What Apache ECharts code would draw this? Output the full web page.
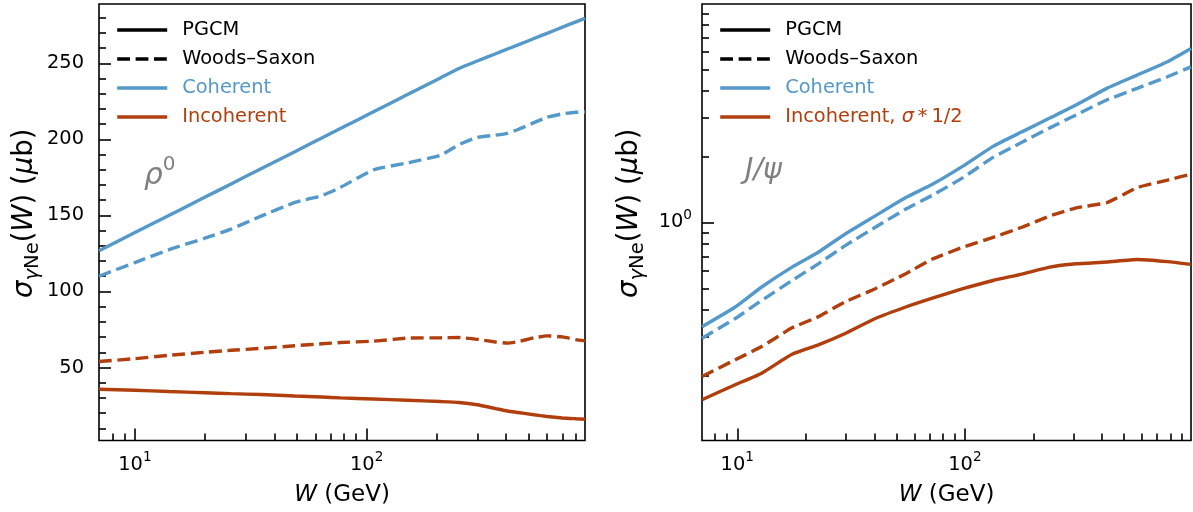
<!DOCTYPE html>
<html><head><meta charset="utf-8">
<script src="https://cdn.jsdelivr.net/npm/echarts@6/dist/echarts.min.js"></script>
<style>html,body{margin:0;padding:0;background:#fff}#c{width:1193px;height:512px}</style>
</head><body><div id="c"></div>
<script>
// ---------- data ----------
// rho0 panel
const W_rho = [7, 10, 14, 20, 26, 35, 49, 64, 77, 107, 150, 208, 250, 300, 360, 405, 450, 527, 600, 700, 800, 875];
const rho_pgcm_coh = [126.7, 138.7, 149.9, 161.9, 170.7, 180.7, 191.9, 200.9, 207.1, 218.1, 229.5, 240.4, 246.6, 251.5, 256.3, 259.4, 262.1, 266.3, 269.7, 273.8, 277.3, 279.6];
const rho_ws_coh   = [110, 119, 127.4, 135, 141, 149.5, 158.5, 163, 168.4, 180, 184.5, 189.5, 196.5, 201.3, 202.8, 204, 206.5, 211, 214.5, 216.8, 217.8, 218];
const rho_pgcm_inc = [35.7, 35, 34.2, 33.4, 32.8, 32.2, 31.3, 30.6, 30, 29.3, 28.5, 27.6, 27, 25.5, 23, 21.4, 20.4, 18.9, 17.8, 16.8, 16.3, 16];
const rho_ws_inc   = [53.9, 55.8, 58, 60, 61.3, 62.6, 64.3, 65.6, 66.4, 67.3, 69.3, 69.5, 69.7, 68.5, 66.8, 66, 67, 69.5, 70.8, 70.1, 68.3, 67.5];
// J/psi panel (incoherent already multiplied by 1/2)
const W_jpsi = [7, 9.8, 12.8, 17.4, 22.7, 29.8, 40.4, 55, 72, 98, 133, 178, 236, 309, 420, 571, 776, 985];
const jpsi_pgcm_coh = [0.334, 0.411, 0.507, 0.625, 0.731, 0.885, 1.071, 1.298, 1.492, 1.806, 2.224, 2.59, 2.994, 3.44, 4.09, 4.70, 5.41, 6.22];
const jpsi_ws_coh   = [0.296, 0.364, 0.44, 0.543, 0.647, 0.783, 0.95, 1.15, 1.33, 1.6, 1.98, 2.32, 2.7, 3.1, 3.62, 4.09, 4.62, 5.13];
const jpsi_pgcm_inc = [0.155, 0.1816, 0.205, 0.25, 0.276, 0.311, 0.364, 0.411, 0.451, 0.498, 0.543, 0.581, 0.625, 0.647, 0.659, 0.677, 0.662, 0.643];
const jpsi_ws_inc   = [0.198, 0.236, 0.271, 0.33, 0.371, 0.434, 0.498, 0.583, 0.68, 0.77, 0.855, 0.95, 1.07, 1.165, 1.23, 1.44, 1.56, 1.66];
// ticks
const rhoYMajor = [50, 100, 150, 200, 250];
const rhoYMinor = [10, 20, 30, 40, 60, 70, 80, 90, 110, 120, 130, 140, 160, 170, 180, 190, 210, 220, 230, 240, 260, 270, 280];
const xMajor = [10, 100];
const xMinor = [8, 9, 20, 30, 40, 50, 60, 70, 80, 90, 200, 300, 400, 500, 600, 700, 800, 900];
const logYMajor = [1];
const logYMinor = [0.2, 0.3, 0.4, 0.5, 0.6, 0.7, 0.8, 0.9, 2, 3, 4, 5, 6, 7, 8, 9];
const legendLeft  = ['PGCM', 'Woods–Saxon', 'Coherent', 'Incoherent'];
const legendRight = ['PGCM', 'Woods–Saxon', 'Coherent', 'Incoherent, σ*1/2'];

// ---------- styling ----------
const FONT = 'DejaVu Sans';
const BLUE = '#5499c9';
const BROWN = '#b13f0d';
const DASH = [12.8, 5.6];
const LW = 3.4;
const FS = 19.4;

const pairs = (xs, ys) => xs.map((x, i) => [x, ys[i]]);
const tickRich = {
  b: {fontFamily: FONT, fontSize: FS, color: '#000', lineHeight: 28},
  s: {fontFamily: FONT, fontSize: 13.6, color: '#000', verticalAlign: 'top'}
};
const powLabel = v => {
  const e = Math.round(Math.log10(v));
  if (Math.abs(Math.log10(v) - e) < 1e-6) return '{b|10}{s|' + e + '}';
  return '';
};
const xNameRich = {
  n: {fontFamily: FONT, fontSize: 23, color: '#000', lineHeight: 30},
  i: {fontFamily: FONT, fontSize: 23, fontStyle: 'italic', color: '#000', lineHeight: 30}
};
const yNameRich = {
  n: {fontFamily: FONT, fontSize: 27.5, color: '#000', lineHeight: 36},
  i: {fontFamily: FONT, fontSize: 27.5, fontStyle: 'italic', color: '#000', lineHeight: 36},
  subi: {fontFamily: FONT, fontSize: 19.5, fontStyle: 'italic', color: '#000', verticalAlign: 'bottom'},
  sub: {fontFamily: FONT, fontSize: 19.5, color: '#000', verticalAlign: 'bottom'}
};
const yName = '{i|σ}{subi|γ}{sub|Ne}{n|(}{i|W}{n|) (}{i|μ}{n|b)}';
const xName = '{i|W}{n| (GeV)}';
const tickStyle = {color: '#000', width: 1.6};

function mainX(grid, max) {
  return {
    gridIndex: grid, type: 'log', logBase: 10, min: 7, max: max, position: 'bottom',
    axisLine: {show: false, onZero: false}, splitLine: {show: false},
    axisTick: {inside: true, length: 12, lineStyle: tickStyle},
    axisLabel: {margin: 10, formatter: powLabel, rich: tickRich, showMinLabel: false, showMaxLabel: false},
    name: xName, nameLocation: 'middle', nameGap: 40, nameTextStyle: {rich: xNameRich}
  };
}
function minorX(grid, max) {
  return {
    gridIndex: grid, type: 'value', position: 'bottom', offset: 0,
    min: Math.log10(7), max: Math.log10(max),
    axisLine: {show: false, onZero: false}, splitLine: {show: false}, axisLabel: {show: false},
    axisTick: {inside: true, length: 7, lineStyle: tickStyle, customValues: xMinor.map(Math.log10)}
  };
}
const yNameStyle = {rich: yNameRich, padding: [0, 0, 0, 18]};

const option = {
  animation: false,
  backgroundColor: '#fff',
  grid: [
    {left: 99, top: 4, width: 486, height: 439, show: true, borderColor: '#000', borderWidth: 1.6, backgroundColor: 'transparent'},
    {left: 702, top: 4, width: 489, height: 439, show: true, borderColor: '#000', borderWidth: 1.6, backgroundColor: 'transparent'}
  ],
  xAxis: [mainX(0, 875), minorX(0, 875), mainX(1, 985), minorX(1, 985)],
  yAxis: [
    {gridIndex: 0, type: 'value', min: 2, max: 289, position: 'left',
     axisLine: {show: false, onZero: false}, splitLine: {show: false},
     axisTick: {inside: true, length: 12, lineStyle: tickStyle, customValues: rhoYMajor},
     axisLabel: {margin: 15, fontFamily: FONT, fontSize: FS, color: '#000', customValues: rhoYMajor},
     name: yName, nameLocation: 'middle', nameGap: 54, nameTextStyle: yNameStyle},
    {gridIndex: 0, type: 'value', min: 2, max: 289, position: 'left', offset: 0,
     axisLine: {show: false, onZero: false}, splitLine: {show: false}, axisLabel: {show: false},
     axisTick: {inside: true, length: 7, lineStyle: tickStyle, customValues: rhoYMinor}},
    {gridIndex: 1, type: 'log', logBase: 10, min: 0.101, max: 9.93, position: 'left',
     axisLine: {show: false, onZero: false}, splitLine: {show: false},
     axisTick: {inside: true, length: 12, lineStyle: tickStyle},
     axisLabel: {margin: 10, formatter: v => (Math.abs(v - logYMajor[0]) < 1e-9 ? powLabel(v) : ''), rich: tickRich, showMinLabel: false, showMaxLabel: false},
     name: yName, nameLocation: 'middle', nameGap: 54, nameTextStyle: yNameStyle},
    {gridIndex: 1, type: 'value', min: Math.log10(0.101), max: Math.log10(9.93), position: 'left', offset: 0,
     axisLine: {show: false, onZero: false}, splitLine: {show: false}, axisLabel: {show: false},
     axisTick: {inside: true, length: 7, lineStyle: tickStyle, customValues: logYMinor.map(Math.log10)}}
  ],
  title: [
    {text: '{r|ρ}{s|0}', left: 144, top: 155, padding: 0,
     textStyle: {fontWeight: 'normal', rich: {r: {fontFamily: FONT, fontStyle: 'italic', fontWeight: 'normal', fontSize: 29.5, color: '#808080', lineHeight: 42},
                        s: {fontFamily: FONT, fontWeight: 'normal', fontSize: 20, color: '#808080', verticalAlign: 'top'}}}},
    {text: '{r|J/ψ}', left: 745, top: 151, padding: 0,
     textStyle: {fontWeight: 'normal', rich: {r: {fontFamily: FONT, fontStyle: 'italic', fontWeight: 'normal', fontSize: 28.5, color: '#808080', lineHeight: 40}}}}
  ],
  legend: [legendLeft, legendRight].map((names, k) => ({
    orient: 'vertical', left: k === 0 ? 115.5 : 718.5, top: 20.5,
    itemWidth: 50, itemHeight: 20, itemGap: 10, selectedMode: false, padding: 0,
    itemStyle: {opacity: 0},
    lineStyle: {width: LW},
    formatter: n => n.indexOf('σ') >= 0 ? '{g|}{t|Incoherent, }{i|σ}{t|\u2009*\u20091/2}' : '{g|}{t|' + n + '}',
    textStyle: {fontFamily: FONT, fontSize: FS, color: '#000',
      rich: {g: {width: 10}, t: {fontFamily: FONT, fontSize: FS}, i: {fontFamily: FONT, fontSize: FS, fontStyle: 'italic'}}},
    data: names.map((n, i) => ({name: n, textStyle: i === 2 ? {color: BLUE} : i === 3 ? {color: BROWN} : {color: '#000'}}))
  })),
  series: []
};

const legendDummies = [
  {name: 'PGCM', color: '#000', type: 'solid'},
  {name: 'Woods–Saxon', color: '#000', type: DASH},
  {name: 'Coherent', color: BLUE, type: 'solid'},
  {name: 'Incoherent', color: BROWN, type: 'solid'},
  {name: 'Incoherent, σ*1/2', color: BROWN, type: 'solid'}
];
legendDummies.forEach(d => option.series.push({
  name: d.name, type: 'line', xAxisIndex: 0, yAxisIndex: 0, data: [], symbol: 'none',
  lineStyle: {color: d.color, type: d.type, width: LW, cap: 'butt'}, itemStyle: {color: d.color}
}));

function addLine(name, xi, yi, xs, ys, color, dashed) {
  option.series.push({
    name: name, type: 'line', xAxisIndex: xi, yAxisIndex: yi, data: pairs(xs, ys),
    symbol: 'none', showSymbol: false, smooth: 0.15, clip: true, z: 3,
    lineStyle: {color: color, width: LW, type: dashed ? DASH : 'solid', cap: 'butt'},
    itemStyle: {color: color}
  });
}
addLine('rho PGCM coherent', 0, 0, W_rho, rho_pgcm_coh, BLUE, false);
addLine('rho WS coherent', 0, 0, W_rho, rho_ws_coh, BLUE, true);
addLine('rho PGCM incoherent', 0, 0, W_rho, rho_pgcm_inc, BROWN, false);
addLine('rho WS incoherent', 0, 0, W_rho, rho_ws_inc, BROWN, true);
addLine('jpsi PGCM coherent', 2, 2, W_jpsi, jpsi_pgcm_coh, BLUE, false);
addLine('jpsi WS coherent', 2, 2, W_jpsi, jpsi_ws_coh, BLUE, true);
addLine('jpsi PGCM incoherent', 2, 2, W_jpsi, jpsi_pgcm_inc, BROWN, false);
addLine('jpsi WS incoherent', 2, 2, W_jpsi, jpsi_ws_inc, BROWN, true);

const chart = echarts.init(document.getElementById('c'), null, {renderer: 'canvas'});
chart.setOption(option);
</script></body></html>
